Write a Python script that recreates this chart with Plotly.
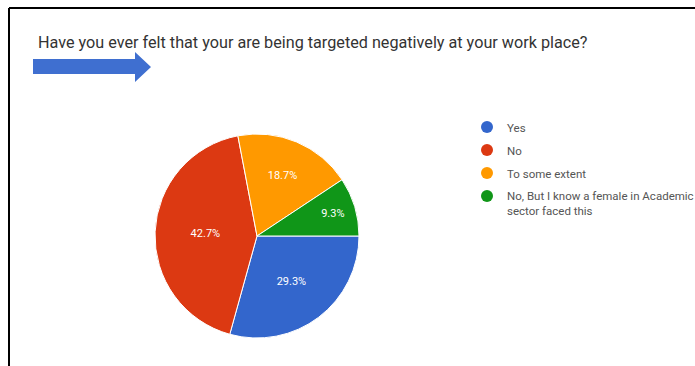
import plotly.graph_objects as go

# Survey answers and their shares (percent)
labels = ["Yes", "No", "To some extent", "No, But I know a female in Academic<br>sector faced this"]
shares = [29.3, 42.7, 18.7, 9.3]
colors = ["#3366CC", "#DC3912", "#FF9900", "#109618"]
question = "Have you ever felt that your are being targeted negatively at your work place?"

W, H = 695, 366


def px(x):
    return x / W


def py(y):
    return 1 - y / H


fig = go.Figure()

fig.add_trace(go.Pie(
    labels=labels,
    values=shares,
    sort=False,
    direction="clockwise",
    rotation=90,
    marker=dict(colors=colors, line=dict(color="white", width=1)),
    texttemplate="%{value:.1f}%",
    textposition="inside",
    insidetextorientation="horizontal",
    textfont=dict(family="Roboto", size=11, color="white"),
    showlegend=False,
    hoverinfo="label+percent",
    domain=dict(x=[px(155), px(359)], y=[py(338), py(134)]),
))

# One legend box per answer so each row sits at its own height
legend_ids = ["legend", "legend2", "legend3", "legend4"]
row_tops = [113, 136, 159, 182]
legend_font = dict(family="Roboto", size=11.5, color="#555555")

for lab, col, lid in zip(labels, colors, legend_ids):
    fig.add_trace(go.Scatter(
        x=[None], y=[None], mode="markers", name=lab, legend=lid,
        marker=dict(color=col, size=11, symbol="circle"),
    ))

legend_layout = {
    lid: dict(
        x=px(467), y=py(top), xanchor="left", yanchor="top",
        font=legend_font, bgcolor="rgba(0,0,0,0)",
        valign="top", itemsizing="constant",
    )
    for lid, top in zip(legend_ids, row_tops)
}

shapes = [
    # frame: top and left edges
    dict(type="line", xref="paper", yref="paper",
         x0=px(9), x1=1.0, y0=py(8), y1=py(8),
         line=dict(color="black", width=2)),
    dict(type="line", xref="paper", yref="paper",
         x0=px(9), x1=px(9), y0=py(8), y1=0,
         line=dict(color="black", width=2)),
    # blue arrow below the question
    dict(type="path", xref="paper", yref="paper",
         path=(f"M {px(33)} {py(59)} L {px(135)} {py(59)} L {px(135)} {py(52)} "
               f"L {px(151)} {py(67)} L {px(135)} {py(82)} L {px(135)} {py(74)} "
               f"L {px(33)} {py(74)} Z"),
         fillcolor="#3F6FD0", line=dict(width=0)),
]

fig.update_layout(
    width=W, height=H,
    margin=dict(l=0, r=0, t=0, b=0, autoexpand=False),
    paper_bgcolor="white",
    plot_bgcolor="white",
    xaxis=dict(visible=False),
    yaxis=dict(visible=False),
    shapes=shapes,
    annotations=[dict(
        text=question, xref="paper", yref="paper",
        x=px(36), y=py(42), xanchor="left", yanchor="middle",
        showarrow=False,
        font=dict(family="Roboto", size=16.2, color="#333333"),
    )],
    showlegend=True,
    **legend_layout,
)

fig.write_html("out.html")
